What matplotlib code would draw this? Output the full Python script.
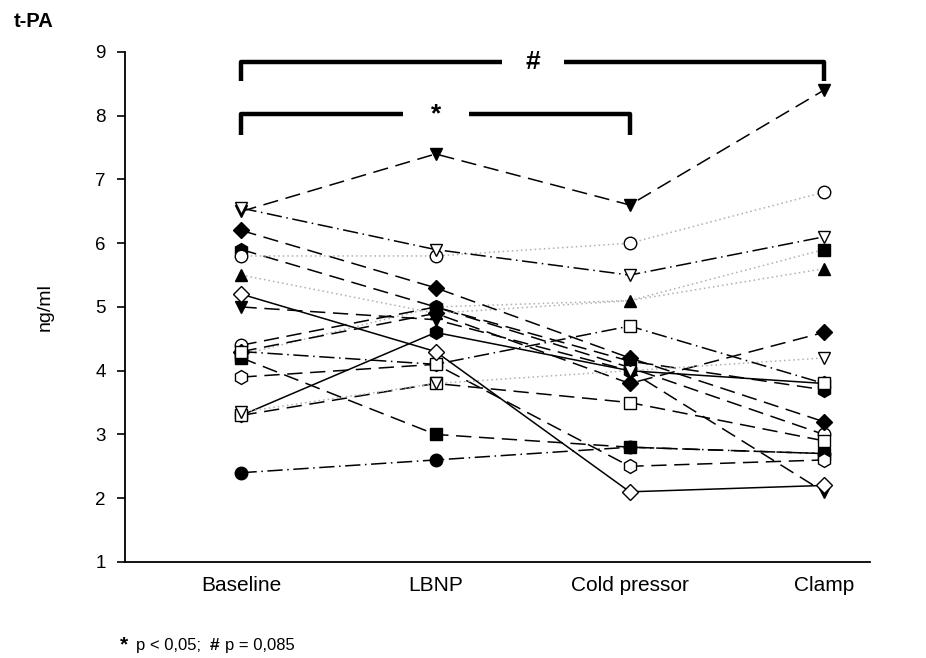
import matplotlib
matplotlib.use("Agg")
import matplotlib.pyplot as plt

plt.rcParams['font.family'] = ['Liberation Sans', 'DejaVu Sans']

# categories on the x axis
phases = ['Baseline', 'LBNP', 'Cold pressor', 'Clamp']

# one list per subject: t-PA (ng/ml) at each phase
s01 = [6.5, 7.4, 6.6, 8.4]
s02 = [6.55, 5.9, 5.5, 6.1]
s03 = [5.8, 5.8, 6.0, 6.8]
s04 = [6.2, 5.3, 4.2, 3.2]
s05 = [5.9, 5.0, 4.15, 3.7]
s06 = [5.5, 4.9, 5.1, 5.6]
s07 = [5.2, 4.3, 2.1, 2.2]
s08 = [5.0, 4.8, 4.0, 2.1]
s09 = [4.4, 5.0, 4.05, 3.0]
s10 = [4.3, 4.9, 3.8, 4.6]
s11 = [4.2, 3.0, 2.8, 2.7]
s12 = [3.3, 4.6, 4.0, 3.8]
s13 = [3.9, 4.1, 2.5, 2.6]
s14 = [3.35, 3.8, 4.0, 4.2]
s15 = [3.3, 3.8, 3.5, 2.9]
s16 = [4.3, 4.1, 4.7, 3.8]
s17 = [2.4, 2.6, 2.8, 2.7]
s18 = [4.25, 5.0, 5.1, 5.9]

DASH = (0, (10, 5))
DOT = (0, (1, 2))
DASHDOT = (0, (10, 3, 1, 3))

# (values, marker, filled, linestyle, line colour, which points get a marker)
subjects = [
    (s18, 's', True, DOT, '#b0b0b0', [0, 3]),
    (s09, 'o', False, DASH, 'black', None),
    (s11, 's', True, DASH, 'black', None),
    (s17, 'o', True, DASHDOT, 'black', None),
    (s13, 'h', False, DASH, 'black', None),
    (s12, 'h', True, '-', 'black', None),
    (s08, 'v', True, DASH, 'black', None),
    (s05, 'h', True, DASH, 'black', None),
    (s10, 'D', True, DASH, 'black', None),
    (s15, 's', False, DASH, 'black', None),
    (s14, 'v', False, DOT, '#b0b0b0', None),
    (s16, 's', False, DASHDOT, 'black', None),
    (s07, 'D', False, '-', 'black', None),
    (s06, '^', True, DOT, '#b0b0b0', None),
    (s04, 'D', True, DASH, 'black', None),
    (s03, 'o', False, DOT, '#b0b0b0', None),
    (s01, 'v', True, DASH, 'black', None),
    (s02, 'v', False, DASHDOT, 'black', None),
]

fig = plt.figure(figsize=(9.26, 6.58), dpi=100)
ax = fig.add_axes([0.135, 0.146, 0.805, 0.775])

x = list(range(len(phases)))
sizes = {'D': 8, 'h': 10}
for vals, mk, filled, ls, col, every in subjects:
    ax.plot(x, vals, linestyle=ls, color=col, lw=1.1, zorder=2)
    ax.plot(x, vals, linestyle='none', marker=mk, markersize=sizes.get(mk, 9),
            markevery=every,
            markerfacecolor='black' if filled else 'white',
            markeredgecolor='black', markeredgewidth=1.0, zorder=3)

ax.set_xlim(-0.6, 3.24)
ax.set_ylim(1, 9)
ax.set_yticks(range(1, 10))
ax.set_xticks(x)
ax.set_xticklabels(phases, fontsize=15)
ax.tick_params(axis='x', length=0, pad=10)
ax.tick_params(axis='y', length=6, width=1.2, labelsize=13.5, pad=8)
for sp in ['top', 'right']:
    ax.spines[sp].set_visible(False)
for sp in ['left', 'bottom']:
    ax.spines[sp].set_linewidth(1.3)
ax.set_ylabel('ng/ml', fontsize=14, labelpad=30)

# significance brackets
def bracket(x0, x1, y, ydrop, gap0, gap1, label):
    kw = dict(color='black', lw=3.2, solid_capstyle='butt', clip_on=False, zorder=4)
    ax.plot([x0, x0, gap0], [y - ydrop, y, y], **kw)
    ax.plot([gap1, x1, x1], [y, y, y - ydrop], **kw)
    ax.text((gap0 + gap1) / 2, y, label, ha='center', va='center',
            fontsize=19, fontweight='bold', zorder=4)

bracket(0, 3, 8.85, 0.3, 1.34, 1.66, '#')
bracket(0, 2, 8.02, 0.33, 0.83, 1.17, '*')

fig.text(0.015, 0.968, 't-PA', fontsize=14.5, fontweight='bold', ha='left', va='center')
fig.text(0.129, 0.006, '*', fontsize=15, fontweight='bold', ha='left', va='bottom')
fig.text(0.147, 0.008, 'p < 0,05;', fontsize=12, ha='left', va='bottom')
fig.text(0.226, 0.008, '#', fontsize=12.5, fontweight='bold', ha='left', va='bottom')
fig.text(0.243, 0.008, 'p = 0,085', fontsize=12, ha='left', va='bottom')

fig.savefig('out.png', dpi=100)
